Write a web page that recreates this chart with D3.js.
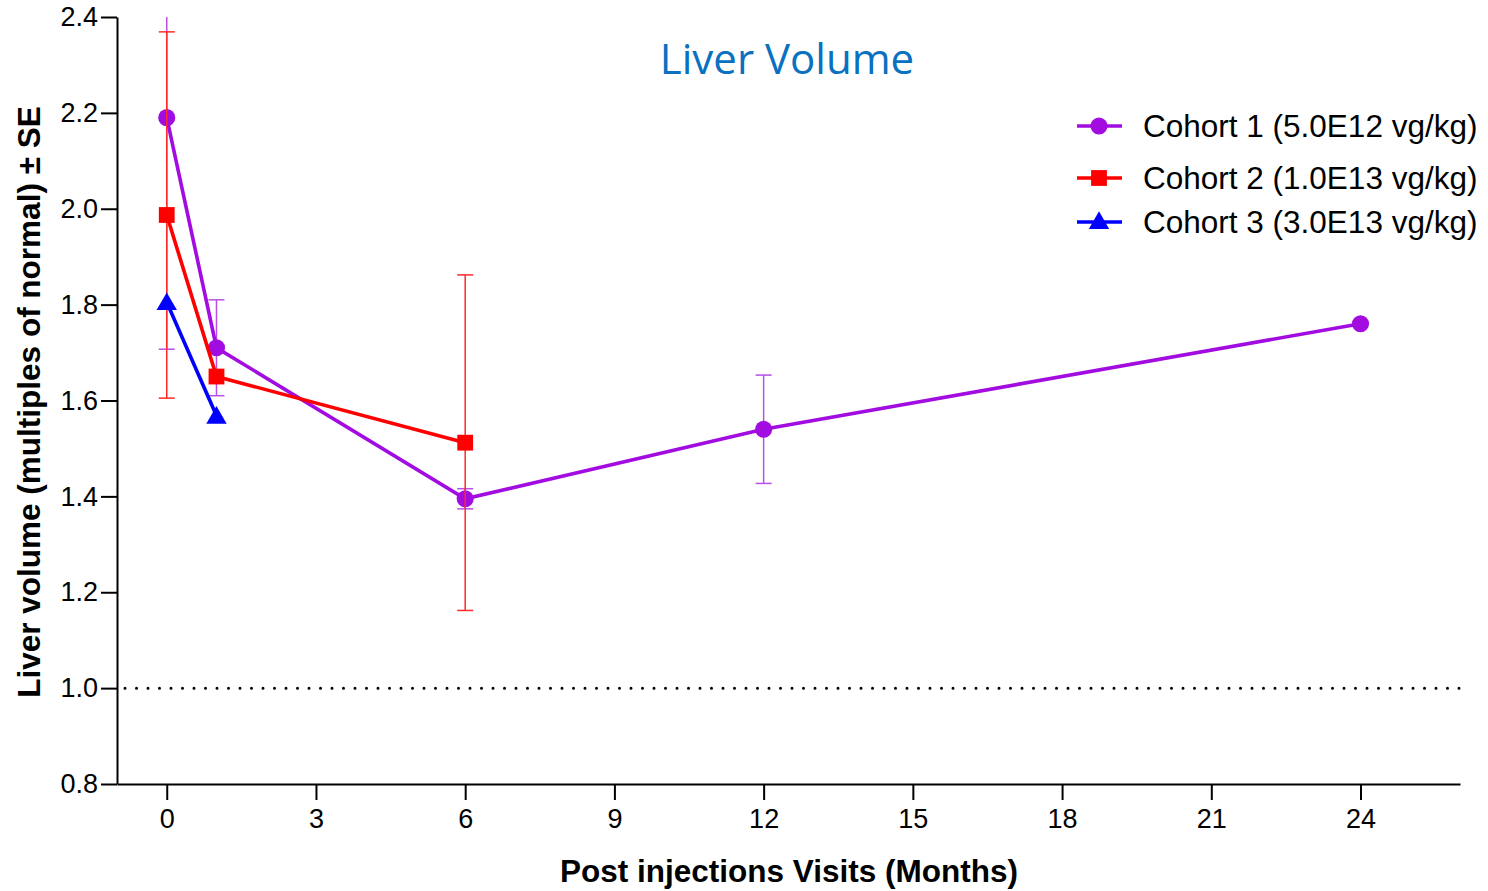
<!DOCTYPE html>
<html lang="en">
<head>
<meta charset="UTF-8" />
<title>Liver Volume</title>
<script src="https://d3js.org/d3.v7.min.js"></script>
<style>
  body { margin: 0; background: white; font-family: Arial, "Liberation Sans", sans-serif; }
  svg { display: block; }
</style>
</head>
<body>
<div id="chart"></div>

<script>
// Months post injection
const cohort1Months = [0, 1, 6, 12, 24];
const cohort1Values = [2.19, 1.71, 1.395, 1.54, 1.76];
const cohort1SE     = [0.483, 0.10, 0.021, 0.113, null];

const cohort2Months = [0, 1, 6];
const cohort2Values = [1.987, 1.65, 1.512];
const cohort2SE     = [0.382, null, 0.35];

const cohort3Months = [0, 1];
const cohort3Values = [1.805, 1.568];
const cohort3SE     = [null, null];

const xTicks = [0, 3, 6, 9, 12, 15, 18, 21, 24];
const yTicks = [0.8, 1.0, 1.2, 1.4, 1.6, 1.8, 2.0, 2.2, 2.4];
const normalLine = 1.0;

const series = [
  { name: "Cohort 1 (5.0E12 vg/kg)", months: cohort1Months, values: cohort1Values, se: cohort1SE,
    color: "#a20ce0", errColor: "#b94fe6", symbol: d3.symbolCircle, size: 230 },
  { name: "Cohort 2 (1.0E13 vg/kg)", months: cohort2Months, values: cohort2Values, se: cohort2SE,
    color: "#ff0000", errColor: "#ff2a2a", symbol: d3.symbolSquare, size: 250 },
  { name: "Cohort 3 (3.0E13 vg/kg)", months: cohort3Months, values: cohort3Values, se: cohort3SE,
    color: "#0000ff", errColor: "#0000ff", symbol: d3.symbolTriangle, size: 180 }
];

const width = 1488, height = 891;
const margin = { top: 17, right: 28, bottom: 107, left: 117 };

const svg = d3.select("#chart").append("svg")
  .attr("width", width)
  .attr("height", height)
  .attr("viewBox", [0, 0, width, height]);

const x = d3.scaleLinear().domain([-1, 26]).range([margin.left, width - margin.right]);
const y = d3.scaleLinear().domain([0.8, 2.4]).range([height - margin.bottom, margin.top]);

// axes
const xAxis = svg.append("g")
  .attr("transform", `translate(0,${y(0.8)})`)
  .call(d3.axisBottom(x).tickValues(xTicks).tickSize(16).tickPadding(9).tickSizeOuter(0));
const yAxis = svg.append("g")
  .attr("transform", `translate(${x(-1)},0)`)
  .call(d3.axisLeft(y).tickValues(yTicks).tickFormat(d3.format(".1f")).tickSize(16).tickPadding(3).tickSizeOuter(0));

[xAxis, yAxis].forEach(a => {
  a.attr("font-size", 27).attr("font-family", "Arial, 'Liberation Sans', sans-serif");
  a.select(".domain").attr("stroke", "#000").attr("stroke-width", 2);
  a.selectAll(".tick line").attr("stroke", "#000").attr("stroke-width", 2);
  a.selectAll(".tick text").attr("fill", "#000");
});

// dotted reference line at 1.0
svg.append("line")
  .attr("x1", x(-1) + 8).attr("x2", x(26))
  .attr("y1", y(normalLine)).attr("y2", y(normalLine))
  .attr("stroke", "#000")
  .attr("stroke-width", 3)
  .attr("stroke-linecap", "round")
  .attr("stroke-dasharray", "0 11.5");

// clip for error bars that run past the top
svg.append("clipPath").attr("id", "plot-clip")
  .append("rect")
  .attr("x", x(-1)).attr("y", y(2.4))
  .attr("width", x(26) - x(-1)).attr("height", y(0.8) - y(2.4));

const line = d3.line().x(d => x(d.m)).y(d => y(d.v));
const capW = 8;

series.forEach(s => {
  const pts = s.months.map((m, i) => ({ m, v: s.values[i], se: s.se[i] }));
  const g = svg.append("g");

  // error bars
  const eg = g.append("g").attr("clip-path", "url(#plot-clip)");
  pts.filter(d => d.se != null).forEach(d => {
    const top = d.v + d.se, bot = d.v - d.se;
    eg.append("line")
      .attr("x1", x(d.m)).attr("x2", x(d.m))
      .attr("y1", y(top)).attr("y2", y(bot))
      .attr("stroke", s.errColor).attr("stroke-width", 1.5);
    [top, bot].forEach(v => {
      eg.append("line")
        .attr("x1", x(d.m) - capW).attr("x2", x(d.m) + capW)
        .attr("y1", y(v)).attr("y2", y(v))
        .attr("stroke", s.errColor).attr("stroke-width", 1.5);
    });
  });

  g.append("path")
    .datum(pts)
    .attr("d", line)
    .attr("fill", "none")
    .attr("stroke", s.color)
    .attr("stroke-width", 3.6);

  g.selectAll("path.pt")
    .data(pts)
    .join("path")
    .attr("class", "pt")
    .attr("d", d3.symbol().type(s.symbol).size(s.size))
    .attr("transform", d => `translate(${x(d.m)},${y(d.v) + (s.symbol === d3.symbolTriangle ? 2 : 0)})`)
    .attr("fill", s.color);
});

// legend
const legendRows = [126, 178, 222];
const legend = svg.append("g");
series.forEach((s, i) => {
  const ly = legendRows[i];
  legend.append("line")
    .attr("x1", 1077).attr("x2", 1122)
    .attr("y1", ly).attr("y2", ly)
    .attr("stroke", s.color).attr("stroke-width", 3.6);
  legend.append("path")
    .attr("d", d3.symbol().type(s.symbol).size(s.size))
    .attr("transform", `translate(1099,${ly + (s.symbol === d3.symbolTriangle ? 1 : 0)})`)
    .attr("fill", s.color);
  legend.append("text")
    .attr("x", 1143).attr("y", ly)
    .attr("dy", "0.35em")
    .attr("font-size", 31.5)
    .attr("fill", "#000")
    .text(s.name);
});

// title
svg.append("text")
  .attr("x", 787).attr("y", 74)
  .attr("text-anchor", "middle")
  .attr("font-family", "'Open Sans', 'Noto Sans', sans-serif")
  .attr("font-size", 42)
  .attr("fill", "#0a70c0")
  .text("Liver Volume");

// axis titles
svg.append("text")
  .attr("x", 789).attr("y", 882)
  .attr("text-anchor", "middle")
  .attr("font-size", 31.5)
  .attr("font-weight", "bold")
  .attr("fill", "#000")
  .text("Post injections Visits (Months)");

svg.append("text")
  .attr("transform", `translate(40,${402}) rotate(-90)`)
  .attr("text-anchor", "middle")
  .attr("font-size", 31.5)
  .attr("font-weight", "bold")
  .attr("fill", "#000")
  .text("Liver volume (multiples of normal) ± SE");
</script>
</body>
</html>
